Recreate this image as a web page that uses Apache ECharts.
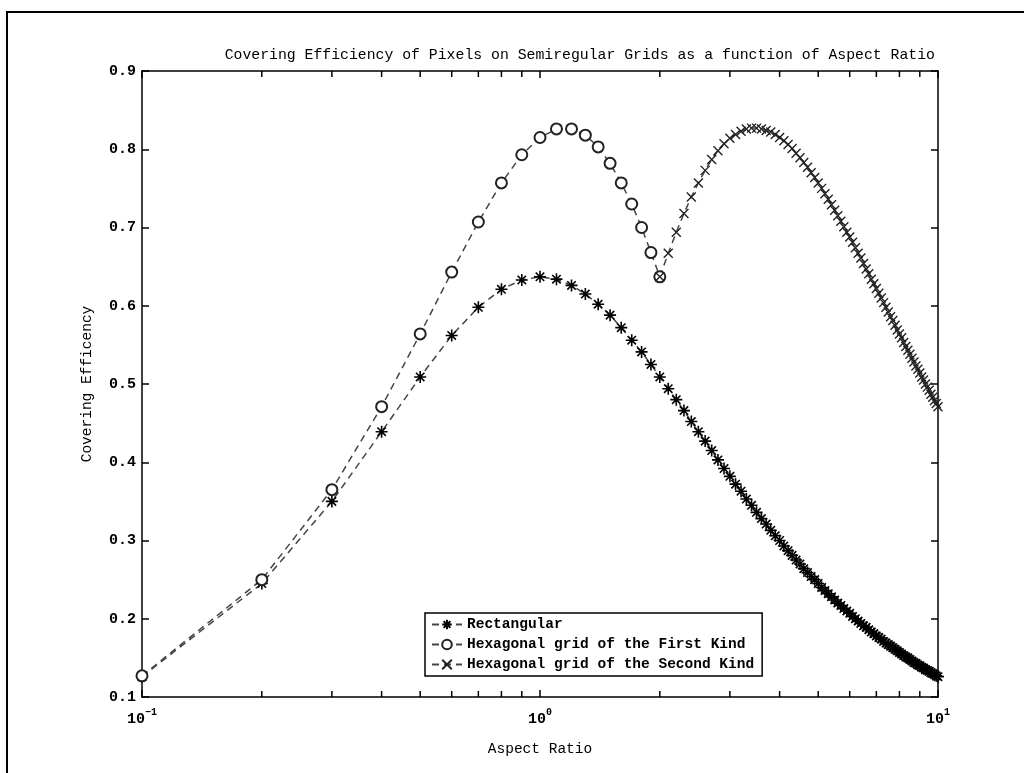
<!DOCTYPE html>
<html style="height: 100%">
<head>
    <meta charset="utf-8">
    <script src="https://cdn.jsdelivr.net/npm/echarts@6/dist/echarts.min.js"></script>
</head>
<body style="height: 100%; margin: 0; background: #fff">
    <div id="main" style="width:1024px;height:773px;"></div>
    <script type="text/javascript">
    // aspect ratios sampled along the x axis
    var ratios = [
        0.1, 0.2, 0.3, 0.4, 0.5, 0.6, 0.7, 0.8, 0.9, 1.0,
        1.1, 1.2, 1.3, 1.4, 1.5, 1.6, 1.7, 1.8, 1.9, 2.0,
        2.1, 2.2, 2.3, 2.4, 2.5, 2.6, 2.7, 2.8, 2.9, 3.0,
        3.1, 3.2, 3.3, 3.4, 3.5, 3.6, 3.7, 3.8, 3.9, 4.0,
        4.1, 4.2, 4.3, 4.4, 4.5, 4.6, 4.7, 4.8, 4.9, 5.0,
        5.1, 5.2, 5.3, 5.4, 5.5, 5.6, 5.7, 5.8, 5.9, 6.0,
        6.1, 6.2, 6.3, 6.4, 6.5, 6.6, 6.7, 6.8, 6.9, 7.0,
        7.1, 7.2, 7.3, 7.4, 7.5, 7.6, 7.7, 7.8, 7.9, 8.0,
        8.1, 8.2, 8.3, 8.4, 8.5, 8.6, 8.7, 8.8, 8.9, 9.0,
        9.1, 9.2, 9.3, 9.4, 9.5, 9.6, 9.7, 9.8, 9.9, 10.0
    ];
    var rectangular = [
        0.126, 0.245, 0.350, 0.439, 0.509, 0.562, 0.598, 0.621, 0.633, 0.637,
        0.634, 0.626, 0.615, 0.602, 0.588, 0.572, 0.556, 0.541, 0.525, 0.509,
        0.494, 0.480, 0.466, 0.452, 0.439, 0.427, 0.415, 0.403, 0.392, 0.382,
        0.372, 0.363, 0.353, 0.345, 0.336, 0.328, 0.321, 0.313, 0.306, 0.300,
        0.293, 0.287, 0.281, 0.275, 0.270, 0.264, 0.259, 0.254, 0.250, 0.245,
        0.240, 0.236, 0.232, 0.228, 0.224, 0.220, 0.217, 0.213, 0.210, 0.207,
        0.203, 0.200, 0.197, 0.194, 0.191, 0.189, 0.186, 0.183, 0.181, 0.178,
        0.176, 0.174, 0.171, 0.169, 0.167, 0.165, 0.163, 0.161, 0.159, 0.157,
        0.155, 0.153, 0.151, 0.150, 0.148, 0.146, 0.144, 0.143, 0.141, 0.140,
        0.138, 0.137, 0.135, 0.134, 0.133, 0.131, 0.130, 0.129, 0.127, 0.126
    ];
    // first kind: ratios 0.1 .. 2.0
    var hexFirst = [
        0.127, 0.250, 0.365, 0.471, 0.564, 0.643, 0.707, 0.757, 0.793, 0.815,
        0.826, 0.826, 0.818, 0.803, 0.782, 0.757, 0.730, 0.700, 0.668, 0.637
    ];
    // second kind: ratios 2.0 .. 10.0
    var hexSecond = [
        0.637, 0.667, 0.694, 0.718, 0.739, 0.757, 0.773, 0.787, 0.798, 0.807,
        0.814, 0.819, 0.823, 0.826, 0.827, 0.827, 0.826, 0.824, 0.822, 0.819,
        0.815, 0.811, 0.806, 0.801, 0.795, 0.789, 0.783, 0.777, 0.770, 0.764,
        0.757, 0.750, 0.743, 0.736, 0.729, 0.722, 0.715, 0.708, 0.701, 0.694,
        0.688, 0.681, 0.674, 0.667, 0.661, 0.654, 0.647, 0.641, 0.634, 0.628,
        0.622, 0.616, 0.610, 0.604, 0.598, 0.592, 0.586, 0.581, 0.575, 0.569,
        0.564, 0.559, 0.553, 0.548, 0.543, 0.538, 0.533, 0.528, 0.523, 0.519,
        0.514, 0.509, 0.505, 0.500, 0.496, 0.492, 0.487, 0.483, 0.479, 0.475,
        0.471
    ];
    var minorTicks = [0.2, 0.3, 0.4, 0.5, 0.6, 0.7, 0.8, 0.9, 2, 3, 4, 5, 6, 7, 8, 9];
    var yTicks = ['0.1', '0.2', '0.3', '0.4', '0.5', '0.6', '0.7', '0.8', '0.9'];
    var seriesNames = ['Rectangular', 'Hexagonal grid of the First Kind', 'Hexagonal grid of the Second Kind'];

    function pairs(xs, ys) {
        return ys.map(function (y, i) { return [xs[i], y]; });
    }

    var FONT = 'Liberation Mono';
    var STAR = 'path://M0,-6L0,6M-6,0L6,0M-4.2,-4.2L4.2,4.2M-4.2,4.2L4.2,-4.2';
    var CROSS = 'path://M-5,-5L5,5M-5,5L5,-5';

    var dashed = { color: '#444', width: 1.5, type: [7, 5] };

    var myChart = echarts.init(document.getElementById('main'));
    var option = {
        backgroundColor: '#fff',
        animation: false,
        title: {
            text: 'Covering Efficiency of Pixels on Semiregular Grids as a function of Aspect Ratio',
            right: 84,
            top: 43,
            textStyle: { fontFamily: FONT, fontSize: 14.8, fontWeight: 'normal', color: '#000' }
        },
        graphic: [{
            type: 'polyline',
            shape: { points: [[7, 773], [7, 12], [1024, 12]] },
            style: { stroke: '#000', lineWidth: 2, fill: null }
        }],
        legend: {
            data: seriesNames,
            orient: 'vertical',
            left: 425,
            top: 613,
            padding: [4, 8, 4, 6],
            itemGap: 5,
            itemWidth: 30,
            itemHeight: 12,
            borderColor: '#000',
            borderWidth: 1.5,
            backgroundColor: '#fff',
            textStyle: { fontFamily: FONT, fontSize: 14.5, fontWeight: 'bold', color: '#000' }
        },
        grid: { left: 142, right: 86, top: 71, bottom: 76 },
        xAxis: [{
            type: 'log',
            logBase: 10,
            min: 0.1,
            max: 10,
            name: 'Aspect Ratio',
            nameLocation: 'middle',
            nameGap: 45,
            nameTextStyle: { fontFamily: FONT, fontSize: 14.5, color: '#000' },
            axisLine: { lineStyle: { color: '#000', width: 1.5 } },
            axisTick: { inside: true, length: 7, lineStyle: { color: '#000', width: 1.5 } },
            splitLine: { show: false },
            axisLabel: {
                margin: 10,
                formatter: function (v) {
                    var e = Math.round(Math.log(v) / Math.LN10);
                    return '{b|10}{s|' + (e < 0 ? '\u2212' + (-e) : e) + '}';
                },
                rich: {
                    b: { fontFamily: FONT, fontSize: 15, fontWeight: 'bold', color: '#000', verticalAlign: 'bottom', lineHeight: 20 },
                    s: { fontFamily: FONT, fontSize: 10, fontWeight: 'bold', color: '#000', verticalAlign: 'top', lineHeight: 20 }
                }
            }
        }, {
            type: 'log',
            logBase: 10,
            min: 0.1,
            max: 10,
            position: 'top',
            axisLine: { lineStyle: { color: '#000', width: 1.5 } },
            axisTick: { inside: true, length: 7, lineStyle: { color: '#000', width: 1.5 } },
            axisLabel: { show: false },
            splitLine: { show: false }
        }],
        yAxis: [{
            type: 'value',
            min: 0.1,
            max: 0.9,
            interval: 0.1,
            name: 'Covering Efficency',
            nameLocation: 'middle',
            nameGap: 47,
            nameTextStyle: { fontFamily: FONT, fontSize: 14.5, color: '#000' },
            axisLine: { show: true, lineStyle: { color: '#000', width: 1.5 } },
            axisTick: { show: true, inside: true, length: 7, lineStyle: { color: '#000', width: 1.5 } },
            splitLine: { show: false },
            axisLabel: {
                margin: 6,
                fontFamily: FONT,
                fontSize: 15,
                fontWeight: 'bold',
                color: '#000',
                formatter: function (v) { return yTicks[Math.round(v * 10) - 1]; }
            }
        }, {
            type: 'value',
            min: 0.1,
            max: 0.9,
            interval: 0.1,
            position: 'right',
            axisLine: { show: true, lineStyle: { color: '#000', width: 1.5 } },
            axisTick: { show: true, inside: true, length: 7, lineStyle: { color: '#000', width: 1.5 } },
            splitLine: { show: false },
            axisLabel: { show: false }
        }],
        series: [{
            name: seriesNames[0],
            type: 'line',
            data: pairs(ratios, rectangular),
            symbol: STAR,
            symbolSize: 12,
            symbolKeepAspect: true,
            lineStyle: dashed,
            itemStyle: { color: '#000', borderColor: '#000', borderWidth: 1.6 },
            z: 3
        }, {
            name: seriesNames[1],
            type: 'line',
            data: pairs(ratios.slice(0, 20), hexFirst),
            symbol: 'emptyCircle',
            symbolSize: 11,
            lineStyle: dashed,
            itemStyle: { color: '#222', borderColor: '#222', borderWidth: 1.2 },
            z: 3
        }, {
            name: seriesNames[2],
            type: 'line',
            data: pairs(ratios.slice(19), hexSecond),
            symbol: CROSS,
            symbolSize: 9,
            symbolKeepAspect: true,
            lineStyle: dashed,
            itemStyle: { color: '#222', borderColor: '#222', borderWidth: 1.4 },
            z: 3
        }, {
            // minor log ticks on bottom and top axes
            type: 'custom',
            silent: true,
            data: minorTicks.map(function (t) { return [t]; }),
            renderItem: function (params, api) {
                var cs = params.coordSys;
                var px = api.coord([api.value(0), 0.5])[0];
                var bottom = cs.y + cs.height;
                var style = { stroke: '#000', lineWidth: 1.5 };
                return {
                    type: 'group',
                    children: [
                        { type: 'line', shape: { x1: px, y1: bottom, x2: px, y2: bottom - 6 }, style: style },
                        { type: 'line', shape: { x1: px, y1: cs.y, x2: px, y2: cs.y + 6 }, style: style }
                    ]
                };
            },
            z: 2
        }]
    };
    myChart.setOption(option);
    </script>
</body>
</html>
